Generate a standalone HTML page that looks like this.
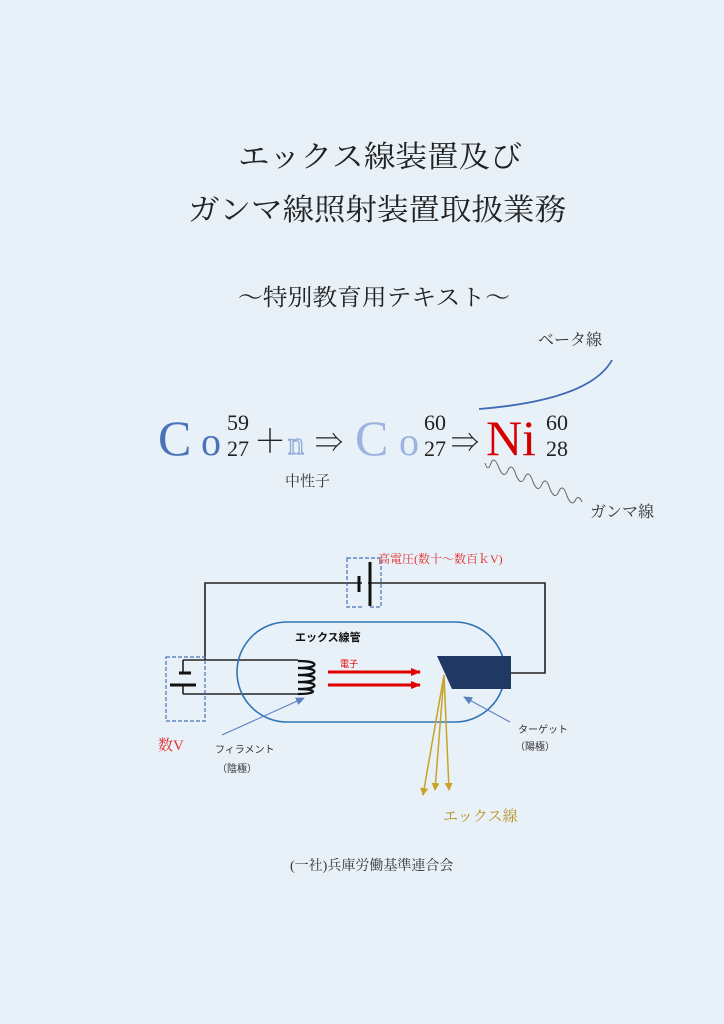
<!DOCTYPE html>
<html><head><meta charset="utf-8"><style>
html,body{margin:0;padding:0;background:#e9f1f8;}
svg{display:block;}
.s{font-family:"Liberation Serif","Noto Serif CJK JP",serif;}
.g{font-family:"Liberation Sans","Noto Sans CJK JP",sans-serif;}
</style></head><body>
<svg width="724" height="1024" viewBox="0 0 724 1024" xmlns="http://www.w3.org/2000/svg">
<rect width="724" height="1024" fill="#e9f1f8"/>
<defs>
<marker id="ar" markerUnits="userSpaceOnUse" markerWidth="10" markerHeight="8" refX="9" refY="4" orient="auto"><path d="M0,0 L10,4 L0,8z" fill="#e00000"/></marker>
<marker id="ay" markerUnits="userSpaceOnUse" markerWidth="8" markerHeight="8" refX="7" refY="4" orient="auto"><path d="M0,0 L8,4 L0,8z" fill="#c9a227"/></marker>
<marker id="ab" markerUnits="userSpaceOnUse" markerWidth="9" markerHeight="8" refX="8" refY="4" orient="auto"><path d="M0,0 L9,4 L0,8z" fill="#5b7fc0"/></marker>
</defs>
<g class="s" fill="#222">
<text x="238" y="167" font-size="30" textLength="284" lengthAdjust="spacingAndGlyphs">エックス線装置及び</text>
<text x="188" y="220" font-size="30" textLength="378" lengthAdjust="spacingAndGlyphs">ガンマ線照射装置取扱業務</text>
<text x="238" y="305" font-size="23" textLength="272" lengthAdjust="spacingAndGlyphs">〜特別教育用テキスト〜</text>
</g>
<g class="s">
<text x="158" y="455" font-size="50" fill="#4a72b8">C</text>
<text x="201" y="455" font-size="40" fill="#4a72b8">o</text>
<text x="227" y="430" font-size="22" fill="#222">59</text>
<text x="227" y="456" font-size="22" fill="#222">27</text>
<text x="254" y="452" font-size="32" fill="#222">＋</text>
<text x="288" y="454" font-size="32" fill="#e9f1f8" stroke="#8fa9d8" stroke-width="1.3">n</text>
<text x="315" y="452" font-size="28" fill="#222">⇒</text>
<text x="355" y="455" font-size="50" fill="#9bb3df">C</text>
<text x="399" y="455" font-size="40" fill="#9bb3df">o</text>
<text x="424" y="430" font-size="22" fill="#222">60</text>
<text x="424" y="456" font-size="22" fill="#222">27</text>
<text x="451" y="452" font-size="28" fill="#222">⇒</text>
<text x="486" y="455" font-size="50" fill="#d40000">Ni</text>
<text x="546" y="430" font-size="22" fill="#222">60</text>
<text x="546" y="456" font-size="22" fill="#222">28</text>
<text x="285" y="486" font-size="15" fill="#333">中性子</text>
<text x="538" y="345" font-size="16" fill="#333">ベータ線</text>
<text x="590" y="517" font-size="16" fill="#333">ガンマ線</text>
</g>
<path d="M479,409 Q590,400 612,360" fill="none" stroke="#3e69b5" stroke-width="1.8"/>
<path d="M485,463 q3,10 6,0 q3,-8 8,5 q5,12 9,2 q4,-8 8,5 q5,12 9,2 q4,-8 8,5 q5,12 9,2 q4,-8 8,5 q5,12 9,2 q4,-8 8,5 q5,12 9,3 q3,-4 6,3" fill="none" stroke="#666" stroke-width="1"/>
<g fill="none" stroke="#222" stroke-width="1.6">
<path d="M205,660 L205,583 L545,583 L545,673 L511,673"/>
<path d="M183,660 L298,660 M183,694 L298,694"/>
<path d="M183,660 L183,672 M183,686 L183,694"/>
</g>
<rect x="237" y="622" width="268" height="100" rx="50" fill="none" stroke="#2e75b6" stroke-width="1.6"/>
<g fill="none" stroke="#111" stroke-width="2.2">
<path d="M298,661 C320,661 320,668 298,668"/>
<path d="M298,668 C320,668 320,675 298,675"/>
<path d="M298,675 C320,675 320,682 298,682"/>
<path d="M298,682 C320,682 320,689 298,689"/>
<path d="M298,689 C318,689 318,694 298,694"/>
</g>
<rect x="347" y="558" width="34" height="49" fill="#e9f1f8" stroke="#4a72b8" stroke-dasharray="4,2" stroke-width="1.2"/>
<line x1="347" y1="583" x2="381" y2="583" stroke="#222" stroke-width="1.6"/>
<rect x="362" y="560" width="6" height="48" fill="#e9f1f8"/>
<line x1="359" y1="576" x2="359" y2="592" stroke="#111" stroke-width="3"/>
<line x1="370" y1="562" x2="370" y2="606" stroke="#111" stroke-width="3"/>
<rect x="166" y="657" width="39" height="64" fill="none" stroke="#4a72b8" stroke-dasharray="4,2" stroke-width="1.2"/>
<line x1="179" y1="673" x2="191" y2="673" stroke="#111" stroke-width="3"/>
<line x1="170" y1="685" x2="196" y2="685" stroke="#111" stroke-width="3"/>
<line x1="328" y1="672" x2="420" y2="672" stroke="#e00000" stroke-width="3" marker-end="url(#ar)"/>
<line x1="328" y1="685" x2="420" y2="685" stroke="#e00000" stroke-width="3" marker-end="url(#ar)"/>
<polygon points="437,656 511,656 511,689 452,689" fill="#1f3864"/>
<g stroke="#c9a227" stroke-width="1.5" marker-end="url(#ay)">
<line x1="444" y1="675" x2="423" y2="795"/>
<line x1="444" y1="675" x2="435" y2="790"/>
<line x1="444" y1="675" x2="449" y2="790"/>
</g>
<line x1="222" y1="735" x2="304" y2="698" stroke="#5b7fc0" stroke-width="1.1" marker-end="url(#ab)"/>
<line x1="510" y1="722" x2="464" y2="697" stroke="#5b7fc0" stroke-width="1.1" marker-end="url(#ab)"/>
<g class="g">
<text x="295" y="641" font-size="11" font-weight="bold" fill="#111">エックス線管</text>
<text x="340" y="667" font-size="9" fill="#e00000">電子</text>
<text x="215" y="753" font-size="10" fill="#333">フィラメント</text>
<text x="217" y="772" font-size="10" fill="#333">（陰極）</text>
<text x="518" y="733" font-size="10" fill="#333">ターゲット</text>
<text x="515" y="750" font-size="10" fill="#333">（陽極）</text>
</g>
<g class="s">
<text x="158" y="750" font-size="15" fill="#e03030">数V</text>
<text x="378" y="563" font-size="12" fill="#e03030">高電圧(数十〜数百ｋV)</text>
<text x="443" y="821" font-size="15" fill="#b8901c">エックス線</text>
<text x="290" y="870" font-size="14" fill="#333">(一社)兵庫労働基準連合会</text>
</g>
</svg>
</body></html>
